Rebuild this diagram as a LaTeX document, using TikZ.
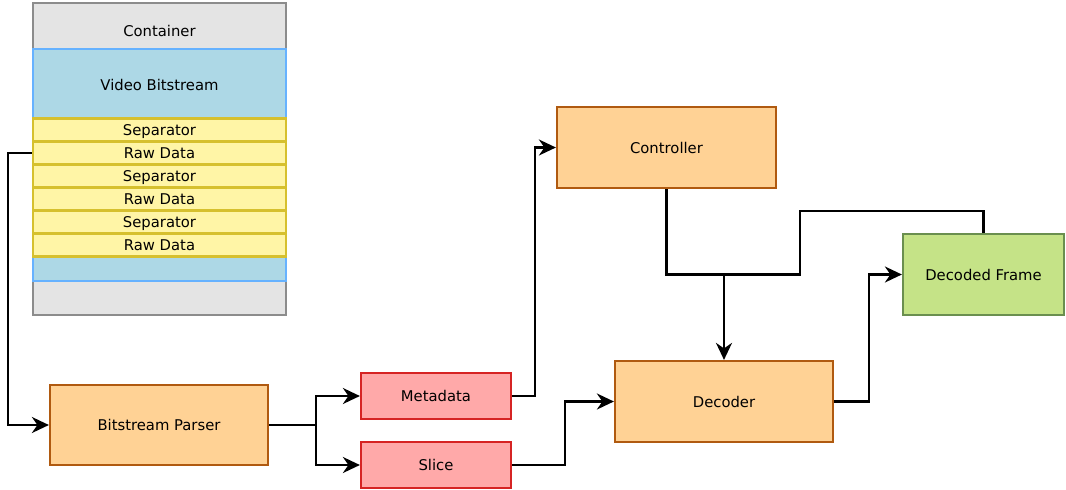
\documentclass[tikz,border=0pt]{standalone}
\usepackage{fontspec}
\setmainfont{DejaVu Sans}
\usetikzlibrary{arrows.meta}
\definecolor{grayfill}{HTML}{E4E4E4}
\definecolor{graydraw}{HTML}{8C8C8C}
\definecolor{bluefill}{HTML}{ADD8E6}
\definecolor{bluedraw}{HTML}{66B2FF}
\definecolor{yelfill}{HTML}{FFF5A6}
\definecolor{yeldraw}{HTML}{D6C02E}
\definecolor{orafill}{HTML}{FFD295}
\definecolor{oradraw}{HTML}{B05A10}
\definecolor{redfill}{HTML}{FFA9A9}
\definecolor{reddraw}{HTML}{D62424}
\definecolor{grnfill}{HTML}{C5E387}
\definecolor{grndraw}{HTML}{6A8F4F}
\tikzset{
  box/.style={rectangle, line width=2.2pt, inner sep=0pt, text height=11pt, text depth=0pt, font=\fontsize{14.8}{17}\selectfont},
  graybox/.style={box, fill=grayfill, draw=graydraw},
  bluebox/.style={box, fill=bluefill, draw=bluedraw},
  yelbox/.style={box, fill=yelfill, draw=yeldraw, minimum width=253pt, minimum height=23pt},
  orabox/.style={box, fill=orafill, draw=oradraw},
  redbox/.style={box, fill=redfill, draw=reddraw, minimum width=150pt, minimum height=46pt},
  grnbox/.style={box, fill=grnfill, draw=grndraw},
  lbl/.style={inner sep=0pt, text height=11pt, text depth=0pt, font=\fontsize{14.8}{17}\selectfont},
  arr/.style={line width=2.3pt, -{Stealth[length=17pt,width=16pt,inset=5.5pt]}},
  ln/.style={line width=2.3pt}
}
\begin{document}
\begin{tikzpicture}[x=1pt,y=-1pt]
\useasboundingbox (0,0) rectangle (1066,490);
% container
\node[graybox, minimum width=253pt, minimum height=312pt] (cont) at (159.5,159) {};
\node[lbl] (conttxt) at (159.5,31) {Container};
\node[bluebox, minimum width=253pt, minimum height=232pt] (vbs) at (159.5,165) {};
\node[lbl] (vbstxt) at (159.5,85) {Video Bitstream};
\node[yelbox] (sep1) at (159.5,130) {Separator};
\node[yelbox] (raw1) at (159.5,153) {Raw Data};
\node[yelbox] (sep2) at (159.5,176) {Separator};
\node[yelbox] (raw2) at (159.5,199) {Raw Data};
\node[yelbox] (sep3) at (159.5,222) {Separator};
\node[yelbox] (raw3) at (159.5,245) {Raw Data};
% blocks
\node[orabox, minimum width=218pt, minimum height=80pt] (parser) at (159,425) {Bitstream Parser};
\node[redbox] (meta) at (436,396) {Metadata};
\node[redbox] (slice) at (436,465) {Slice};
\node[orabox, minimum width=219pt, minimum height=81pt] (ctrl) at (666.5,147.5) {Controller};
\node[orabox, minimum width=218pt, minimum height=81pt] (dec) at (724,401.5) {Decoder};
\node[grnbox, minimum width=161pt, minimum height=81pt] (frame) at (983.5,274.5) {Decoded Frame};
% junction points
\coordinate (join) at (724,274.5);
\coordinate (fbtop) at (800,211);
% connectors
\draw[arr] (raw1.west) -- ++(-24,0) |- (parser.west);
\draw[arr] (parser.east) -- ++(47,0) |- (meta.west);
\draw[arr] (parser.east) -- ++(47,0) |- (slice.west);
\draw[arr] (meta.east) -- ++(23,0) |- (ctrl.west);
\draw[arr] (slice.east) -- ++(53,0) |- (dec.west);
\draw[ln] (ctrl.south) |- (join);
\draw[ln] (frame.north) |- (fbtop) |- (join);
\draw[arr] (join) -- (dec.north);
\draw[arr] (dec.east) -- ++(35,0) |- (frame.west);
\end{tikzpicture}
\end{document}
